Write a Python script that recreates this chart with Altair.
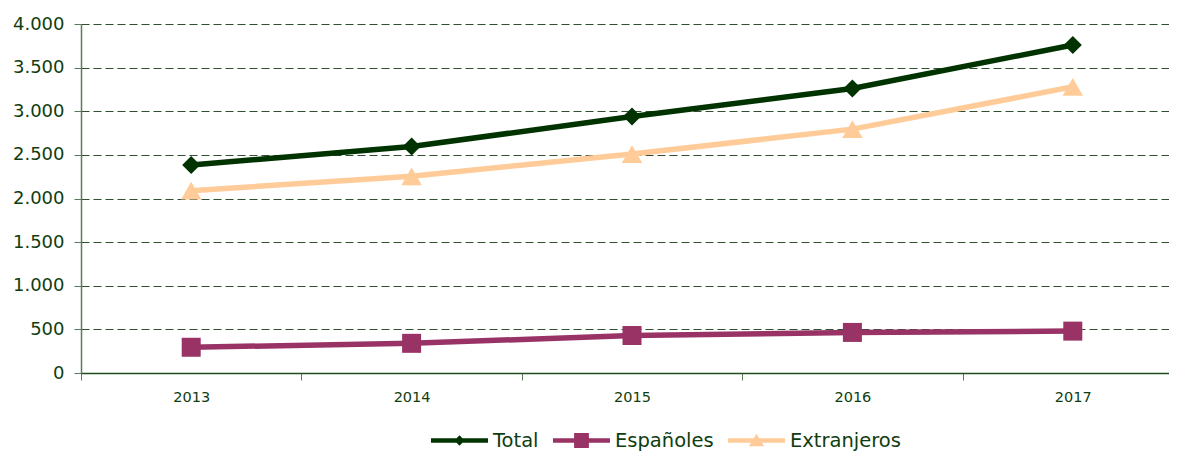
import altair as alt
import pandas as pd

years = ["2013", "2014", "2015", "2016", "2017"]
series = ["Total", "Españoles", "Extranjeros"]
total = [2385, 2595, 2940, 3260, 3760]
espanoles = [295, 340, 430, 465, 480]
extranjeros = [2090, 2255, 2510, 2795, 3280]
colors = ["#003300", "#993366", "#FFCC99"]
y_ticks = [0, 500, 1000, 1500, 2000, 2500, 3000, 3500, 4000]

rows = []
for name, vals in zip(series, [total, espanoles, extranjeros]):
    for yr, v in zip(years, vals):
        rows.append({"serie": name, "year": yr, "value": v})
df = pd.DataFrame(rows)

TXT = "#0f3d0f"
FONT = "DejaVu Sans"
W = 1088

color = alt.Color("serie:N", scale=alt.Scale(domain=series, range=colors), sort=series, legend=None)
x = alt.X("year:N", bandPosition=0.5,
          scale=alt.Scale(type="band", paddingInner=0, paddingOuter=0, range=[0, 1102]),
          axis=alt.Axis(title=None, tickBand="extent", labelFontSize=14.5, labelColor=TXT, labelPadding=10,
                        tickSize=7, tickColor="#5a7a5a", domainColor="#1e4d1e", domainWidth=1.5,
                        labelAngle=0, grid=False))
y = alt.Y("value:Q", scale=alt.Scale(domain=[0, 4000], nice=False),
          axis=alt.Axis(title=None, values=y_ticks, labelFontSize=18, labelColor=TXT, labelPadding=10,
                        tickSize=7, tickColor="#5a7a5a", domainColor="#5a7a5a", domainWidth=1.5,
                        labelExpr="replace(format(datum.value, ','), ',', '.')",
                        grid=True, gridDash=[8, 4], gridColor="#2f4f2f", gridWidth=1))

base = alt.Chart(df)
lines = base.mark_line(strokeWidth=5.5).encode(x=x, y=y, color=color, detail="serie:N")

shapes_pts = {"Total": ("diamond", 324), "Españoles": ("square", 361), "Extranjeros": ("triangle-up", 420)}
pts = []
for s in series:
    shp, sz = shapes_pts[s]
    pts.append(base.transform_filter(alt.datum.serie == s).mark_point(filled=True, opacity=1, shape=shp, size=sz)
               .encode(x=x, y=y, color=color))

bar = "M-1,-0.08L1,-0.08L1,0.08L-1,0.08Z"
legend_paths = [
    bar + "M0,-0.18L0.18,0L0,0.18L-0.18,0Z",
    bar + "M-0.26,-0.26L0.26,-0.26L0.26,0.26L-0.26,0.26Z",
    bar + "M0,-0.24L0.27,0.2L-0.27,0.2Z",
]
leg = alt.Legend(title=None, orient="none", legendX=350, legendY=388, direction="horizontal")
legend_layer = base.transform_filter(alt.datum.value < 0).mark_point(filled=True, opacity=1).encode(
    x=x, y=y,
    color=alt.Color("serie:N", scale=alt.Scale(domain=series, range=colors), sort=series, legend=leg),
    shape=alt.Shape("serie:N", scale=alt.Scale(domain=series, range=legend_paths), sort=series, legend=leg),
)

chart = alt.layer(lines, *pts, legend_layer).resolve_scale(shape="independent", color="independent").properties(
    width=W, height=349,
    autosize=alt.AutoSizeParams(type="none"),
    padding={"left": 73, "top": 16, "right": 0, "bottom": 80},
).configure_view(stroke=None).configure_legend(
    labelFontSize=19.5, labelColor=TXT, labelFont=FONT,
    symbolSize=3249, symbolStrokeWidth=0, labelOffset=5, columnPadding=14, padding=0,
).configure_axis(labelFont=FONT)

chart.save("out.html", embed_options={"renderer": "svg", "actions": False})
